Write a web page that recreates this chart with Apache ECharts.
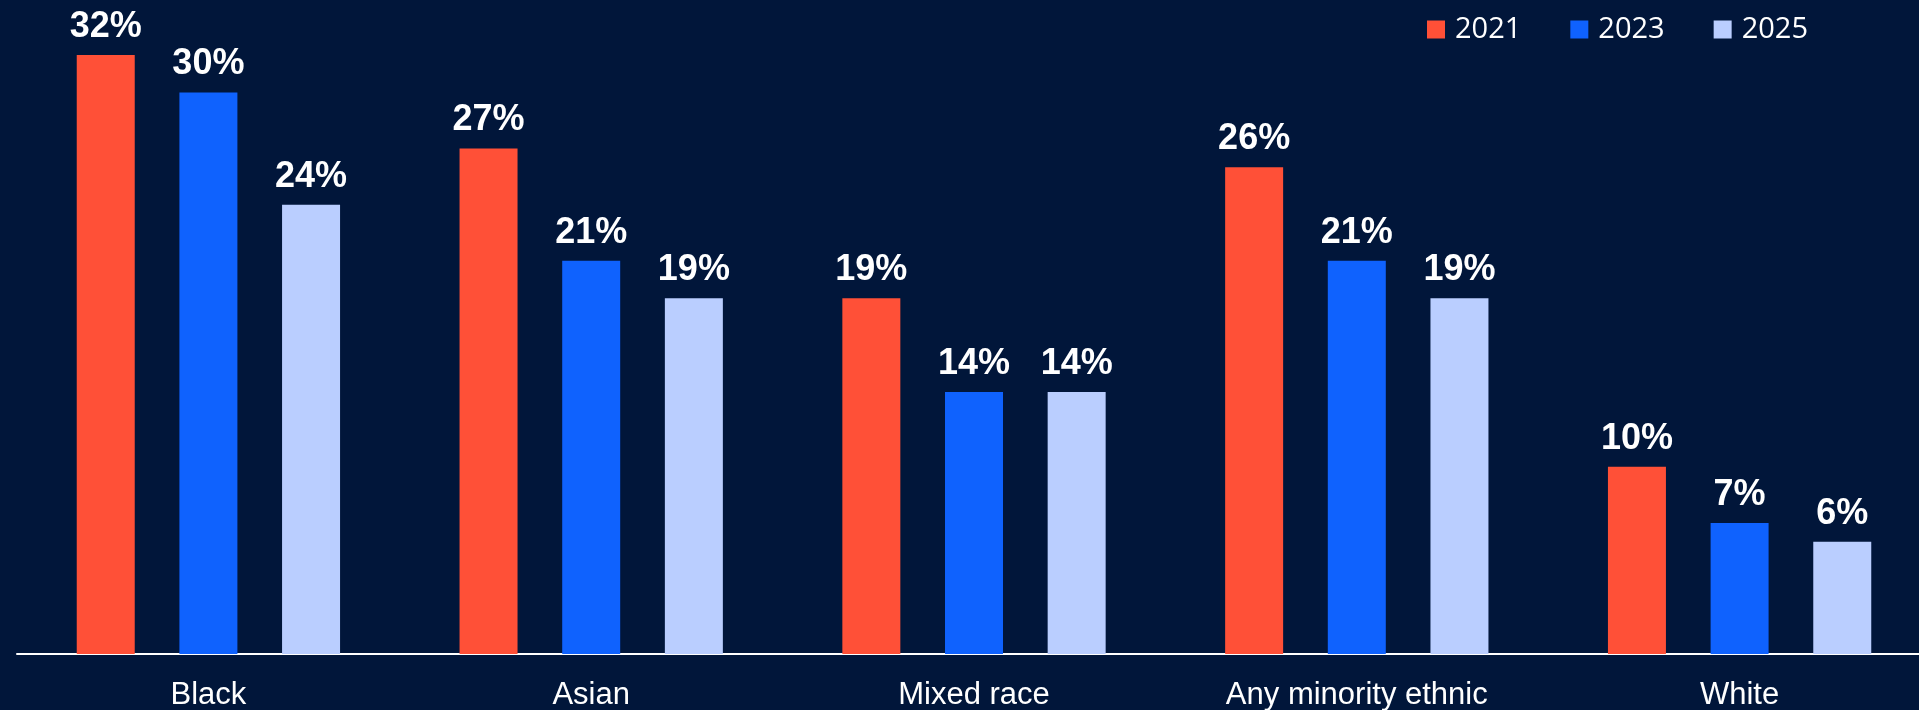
<!DOCTYPE html>
<html>
<head>
<meta charset="utf-8">
<script src="https://cdn.jsdelivr.net/npm/echarts@6/dist/echarts.min.js"></script>
<style>
  html, body { margin: 0; padding: 0; background: #01163A; }
  #chart { width: 1919px; height: 710px; }
</style>
</head>
<body>
<div id="chart"></div>
<script>
var categories = ['Black', 'Asian', 'Mixed race', 'Any minority ethnic', 'White'];
var years = ['2021', '2023', '2025'];
var values2021 = [32, 27, 19, 26, 10];
var values2023 = [30, 21, 14, 21, 7];
var values2025 = [24, 19, 14, 19, 6];
var colors = ['#FF5037', '#0F62FE', '#BACEFF'];

var myChart = echarts.init(document.getElementById('chart'));

function makeSeries(name, data) {
    return {
        name: name,
        type: 'bar',
        barWidth: 58,
        barGap: '77%',
        data: data,
        label: {
            show: true,
            position: 'top',
            distance: 10,
            formatter: '{c}%',
            color: '#ffffff',
            fontFamily: 'Liberation Sans, Arial, sans-serif',
            fontWeight: 'bold',
            fontSize: 36
        }
    };
}

var option = {
    backgroundColor: '#01163A',
    color: colors,
    animation: false,
    legend: {
        data: years,
        left: 1427,
        top: 15,
        padding: 0,
        itemWidth: 18,
        itemHeight: 18,
        itemGap: 49,
        icon: 'rect',
        textStyle: {
            color: '#ffffff',
            fontFamily: 'Open Sans, Noto Sans, sans-serif',
            fontSize: 29,
            padding: [0, 0, 0, 5]
        }
    },
    grid: {
        left: 17,
        width: 1914,
        top: 17.5,
        bottom: 56,
        outerBoundsMode: 'none'
    },
    xAxis: {
        type: 'category',
        data: categories,
        axisTick: { show: false },
        axisLine: { lineStyle: { color: '#ffffff', width: 2 } },
        axisLabel: {
            color: '#ffffff',
            fontFamily: 'Liberation Sans, Arial, sans-serif',
            fontSize: 31,
            margin: 26
        }
    },
    yAxis: {
        type: 'value',
        min: 0,
        max: 34,
        show: false,
        splitLine: { show: false }
    },
    series: [
        makeSeries(years[0], values2021),
        makeSeries(years[1], values2023),
        makeSeries(years[2], values2025)
    ]
};
myChart.setOption(option);
</script>
</body>
</html>
